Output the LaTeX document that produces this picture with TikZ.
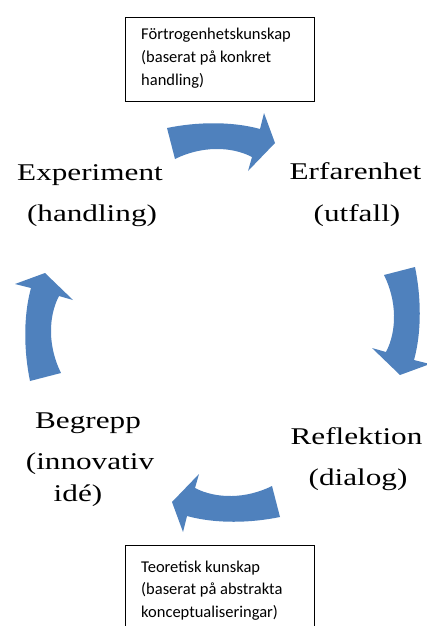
\documentclass[tikz,border=0pt]{standalone}
\usepackage{fontspec}
\newfontfamily\bigserif{Liberation Serif}[FakeStretch=1.3]
\newfontfamily\calib{Carlito}
\definecolor{arrowblue}{RGB}{79,129,189}
\tikzset{
  cyc/.pic={\fill[arrowblue] (-54,-14) .. controls (-25,-20) and (10,-21) .. (39,-13)
      -- (43,-29) -- (54,1) -- (27,29) -- (31,15)
      .. controls (10,4) and (-20,4) .. (-46,17) -- cycle;},
  lbl/.style={font=\bigserif\fontsize{24}{28}\selectfont, inner sep=0pt, anchor=base},
  btxt/.style={font=\calib\fontsize{16.5}{20}\selectfont, inner sep=0pt, anchor=base west},
  kbox/.style={draw=black, line width=1pt, inner sep=0pt, anchor=north west}
}
\begin{document}
\begin{tikzpicture}[x=1pt,y=-1pt]
\useasboundingbox (0,0) rectangle (427,626);
% boxes
\node[kbox, minimum width=189pt, minimum height=84pt] (boxtop) at (125,17) {};
\node[btxt] (t1) at (141,40) {Förtrogenhetskunskap};
\node[btxt] (t2) at (141,62.5) {(baserat på konkret};
\node[btxt] (t3) at (141,85) {handling)};
\node[kbox, minimum width=189pt, minimum height=120pt] (boxbot) at (125,545) {};
\node[btxt] (b1) at (141,572) {Teoretisk kunskap};
\node[btxt] (b2) at (141,594.5) {(baserat på abstrakta};
\node[btxt] (b3) at (141,617) {konceptualiseringar)};
% arrows
\pic at (221,142) {cyc};
\pic[rotate=-90] at (401,321) {cyc};
\pic[rotate=180] at (226,503) {cyc};
\pic[rotate=90] at (44,327) {cyc};
% labels
\node[lbl] (exp) at (90,180) {Experiment};
\node[lbl] (exph) at (92,221) {(handling)};
\node[lbl] (erf) at (355.5,179) {Erfarenhet};
\node[lbl] (erfu) at (357,221) {(utfall)};
\node[lbl] (ref) at (356.5,444) {Reflektion};
\node[lbl] (refd) at (358,485) {(dialog)};
\node[lbl] (beg) at (88,428) {Begrepp};
\node[lbl] (begi) at (90,469) {(innovativ};
\node[lbl] (begj) at (78,501) {idé)};
\end{tikzpicture}
\end{document}
